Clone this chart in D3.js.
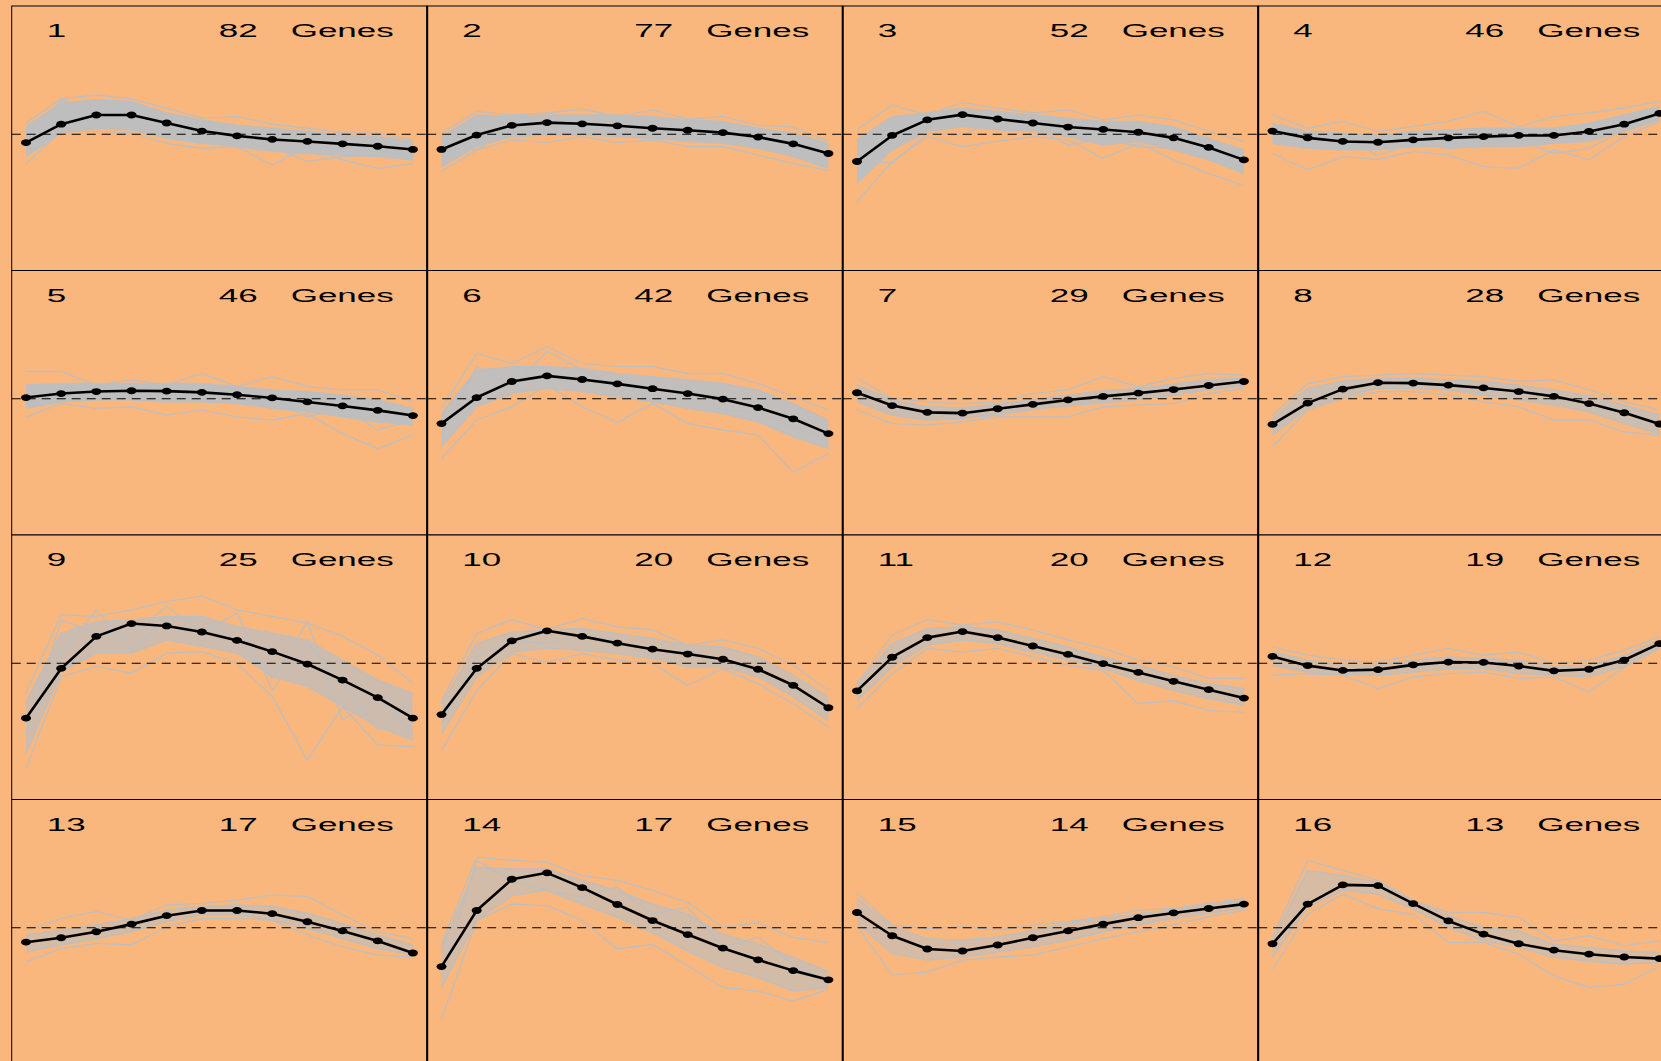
<!DOCTYPE html>
<html>
<head>
<meta charset="utf-8">
<script src="https://cdn.jsdelivr.net/npm/d3@7"></script>
<style>
  html, body { margin: 0; padding: 0; background: #F9B77E; overflow: hidden; }
  svg { display: block; }
</style>
</head>
<body>
<div id="chart"></div>
<script>
// time points on the x axis and cluster labels
const timePoints = [1, 2, 3, 4, 5, 6, 7, 8, 9, 10, 11, 12];
const clusterIds = [1, 2, 3, 4, 5, 6, 7, 8, 9, 10, 11, 12, 13, 14, 15, 16];
const geneCounts = [82, 77, 52, 46, 46, 42, 29, 28, 25, 20, 20, 19, 17, 17, 14, 13];

// cluster centre (black line)
const meanProfiles = [
  [-0.21, 0.25, 0.48, 0.48, 0.28, 0.08, -0.04, -0.13, -0.18, -0.24, -0.30, -0.38],
  [-0.38, -0.02, 0.22, 0.29, 0.26, 0.21, 0.15, 0.10, 0.04, -0.07, -0.24, -0.48],
  [-0.68, -0.03, 0.36, 0.49, 0.38, 0.28, 0.18, 0.12, 0.05, -0.09, -0.33, -0.64],
  [0.08, -0.09, -0.18, -0.20, -0.14, -0.09, -0.06, -0.03, -0.03, 0.07, 0.25, 0.52],
  [0.03, 0.13, 0.18, 0.20, 0.19, 0.16, 0.10, 0.02, -0.08, -0.18, -0.29, -0.42],
  [-0.62, 0.03, 0.43, 0.57, 0.48, 0.37, 0.25, 0.13, -0.01, -0.22, -0.50, -0.87],
  [0.15, -0.17, -0.34, -0.36, -0.25, -0.14, -0.03, 0.06, 0.14, 0.23, 0.33, 0.43],
  [-0.64, -0.11, 0.24, 0.40, 0.39, 0.34, 0.27, 0.18, 0.06, -0.12, -0.35, -0.63],
  [-1.37, -0.13, 0.67, 0.99, 0.93, 0.78, 0.57, 0.29, -0.02, -0.42, -0.86, -1.37],
  [-1.28, -0.13, 0.56, 0.81, 0.67, 0.50, 0.35, 0.23, 0.10, -0.15, -0.55, -1.11],
  [-0.69, 0.15, 0.64, 0.79, 0.64, 0.43, 0.22, -0.01, -0.23, -0.45, -0.66, -0.87],
  [0.17, -0.06, -0.18, -0.16, -0.04, 0.03, 0.02, -0.07, -0.19, -0.15, 0.08, 0.49],
  [-0.36, -0.25, -0.10, 0.09, 0.30, 0.43, 0.43, 0.35, 0.15, -0.08, -0.33, -0.63],
  [-0.97, 0.43, 1.21, 1.37, 1.00, 0.58, 0.18, -0.17, -0.51, -0.80, -1.07, -1.30],
  [0.38, -0.20, -0.53, -0.58, -0.43, -0.25, -0.08, 0.09, 0.25, 0.37, 0.48, 0.59],
  [-0.40, 0.59, 1.07, 1.05, 0.60, 0.17, -0.16, -0.40, -0.56, -0.66, -0.73, -0.77]
];

// upper and lower edge of the dense bundle of gene profiles
const bandHigh = [
  [0.19, 0.78, 0.86, 0.82, 0.53, 0.36, 0.23, 0.15, 0.07, -0.02, -0.06, -0.18],
  [-0.06, 0.48, 0.44, 0.48, 0.48, 0.48, 0.44, 0.36, 0.32, 0.15, 0.03, -0.23],
  [-0.14, 0.44, 0.53, 0.65, 0.57, 0.48, 0.40, 0.32, 0.32, 0.19, -0.10, -0.39],
  [0.28, 0.07, 0.03, -0.02, 0.07, 0.11, 0.15, 0.15, 0.15, 0.28, 0.48, 0.69],
  [0.34, 0.38, 0.38, 0.38, 0.38, 0.38, 0.30, 0.22, 0.18, 0.09, -0.03, -0.24],
  [-0.37, 0.72, 0.80, 0.80, 0.76, 0.63, 0.55, 0.47, 0.38, 0.22, -0.12, -0.53],
  [0.34, -0.03, -0.20, -0.22, -0.13, -0.02, 0.09, 0.20, 0.26, 0.37, 0.48, 0.51],
  [-0.49, 0.26, 0.43, 0.51, 0.51, 0.47, 0.43, 0.34, 0.22, 0.07, -0.16, -0.41],
  [-0.96, 0.75, 1.04, 1.08, 1.17, 1.17, 0.92, 0.75, 0.58, 0.08, -0.42, -0.75],
  [-1.01, 0.49, 0.78, 0.83, 0.87, 0.74, 0.62, 0.45, 0.41, 0.16, -0.30, -0.84],
  [-0.55, 0.49, 0.87, 0.91, 0.83, 0.62, 0.41, 0.16, -0.05, -0.30, -0.51, -0.63],
  [0.28, 0.08, -0.05, -0.05, 0.08, 0.16, 0.12, 0.08, -0.08, -0.05, 0.20, 0.58],
  [-0.18, -0.06, 0.07, 0.23, 0.44, 0.53, 0.57, 0.53, 0.36, 0.11, -0.18, -0.43],
  [-0.49, 1.51, 1.47, 1.47, 1.18, 0.93, 0.59, 0.34, -0.16, -0.41, -0.74, -1.08],
  [0.73, 0.03, -0.27, -0.31, -0.23, -0.06, 0.11, 0.23, 0.36, 0.44, 0.57, 0.68],
  [-0.33, 1.43, 1.30, 1.13, 0.68, 0.30, 0.01, -0.08, -0.41, -0.49, -0.58, -0.62]
];
const bandLow = [
  [-0.56, 0.03, 0.15, 0.11, -0.10, -0.23, -0.31, -0.43, -0.48, -0.52, -0.56, -0.64],
  [-0.81, -0.31, -0.06, -0.02, -0.02, -0.06, -0.10, -0.18, -0.23, -0.35, -0.56, -0.85],
  [-1.23, -0.39, 0.07, 0.19, 0.11, 0.07, -0.06, -0.27, -0.18, -0.39, -0.64, -0.98],
  [-0.23, -0.35, -0.39, -0.39, -0.31, -0.31, -0.31, -0.31, -0.23, -0.18, 0.07, 0.36],
  [-0.24, -0.08, -0.03, -0.03, -0.08, -0.08, -0.12, -0.24, -0.33, -0.45, -0.58, -0.66],
  [-1.20, -0.20, 0.13, 0.26, 0.18, 0.05, -0.08, -0.24, -0.37, -0.58, -0.95, -1.24],
  [-0.08, -0.41, -0.53, -0.49, -0.41, -0.27, -0.18, -0.10, -0.02, 0.09, 0.22, 0.32],
  [-0.91, -0.24, 0.05, 0.26, 0.26, 0.22, 0.09, -0.03, -0.16, -0.33, -0.62, -0.87],
  [-2.25, -0.21, 0.25, 0.25, 0.58, 0.42, 0.25, -0.33, -0.58, -1.08, -1.58, -1.92],
  [-1.76, -0.34, 0.28, 0.37, 0.33, 0.24, 0.12, -0.09, -0.09, -0.34, -0.84, -1.43],
  [-0.93, -0.09, 0.45, 0.58, 0.49, 0.28, 0.08, -0.13, -0.43, -0.68, -0.88, -1.05],
  [-0.05, -0.22, -0.28, -0.30, -0.22, -0.13, -0.13, -0.26, -0.30, -0.34, -0.08, 0.41],
  [-0.60, -0.43, -0.27, -0.10, 0.15, 0.32, 0.32, 0.19, -0.02, -0.27, -0.52, -0.68],
  [-1.49, 0.18, 0.80, 0.93, 0.59, 0.26, -0.12, -0.58, -0.99, -1.24, -1.58, -1.49],
  [0.11, -0.64, -0.81, -0.73, -0.60, -0.48, -0.31, -0.10, 0.07, 0.23, 0.36, 0.48],
  [-0.74, 0.51, 0.93, 0.84, 0.47, 0.01, -0.33, -0.49, -0.74, -0.83, -0.91, -0.87]
];

// single gene profiles that stick out of the bundle
const geneTraces = [
  [[0.28, 0.88, 0.98, 0.88, 0.65, 0.40, 0.44, 0.26, 0.15, 0.04, 0.03, -0.14],
   [-0.73, 0.07, 0.07, 0.04, -0.23, -0.35, -0.31, -0.77, -0.31, -0.64, -0.85, -0.73],
   [-0.31, 0.86, 0.61, 0.78, 0.19, 0.11, -0.10, -0.31, -0.68, -0.56, -0.52, -0.64]],
  [[0.03, 0.57, 0.48, 0.53, 0.63, 0.44, 0.61, 0.38, 0.44, 0.23, 0.18, -0.18],
   [-0.93, -0.39, -0.14, -0.21, -0.06, -0.21, -0.14, -0.31, -0.31, -0.52, -0.73, -0.91],
   [-0.31, -0.39, 0.15, 0.32, 0.07, 0.19, 0.03, -0.14, -0.02, -0.23, -0.48, -0.64]],
  [[0.11, 0.73, 0.48, 0.79, 0.65, 0.53, 0.61, 0.36, 0.48, 0.36, 0.07, -0.18],
   [-1.68, -0.68, -0.06, -0.31, -0.18, -0.06, -0.14, -0.60, -0.23, -0.64, -0.98, -1.29],
   [-0.64, -0.73, 0.03, -0.02, 0.40, 0.19, -0.27, -0.10, -0.31, -0.35, -0.48, -0.89]],
  [[0.48, 0.15, 0.32, 0.07, 0.19, 0.32, 0.57, 0.19, 0.44, 0.53, 0.65, 0.82],
   [-0.48, -0.89, -0.56, -0.63, -0.43, -0.52, -0.81, -0.85, -0.39, -0.64, -0.06, 0.32],
   [-0.14, -0.31, -0.14, -0.52, -0.23, -0.35, -0.31, -0.14, -0.48, -0.35, 0.11, 0.44]],
  [[0.68, 0.68, 0.34, 0.47, 0.34, 0.63, 0.30, 0.55, 0.30, 0.22, 0.22, -0.08],
   [-0.45, -0.12, -0.24, -0.20, -0.41, -0.28, -0.45, -0.53, -0.37, -0.87, -1.24, -0.91],
   [-0.03, 0.05, 0.30, 0.01, 0.01, 0.13, -0.12, -0.03, -0.45, -0.20, -0.78, -0.53]],
  [[-0.24, 1.13, 0.88, 1.30, 0.88, 0.80, 0.80, 0.63, 0.63, 0.38, 0.05, -0.28],
   [-1.49, -0.53, -0.20, 0.34, -0.20, -0.58, -0.12, -0.62, -0.78, -0.91, -1.83, -1.37],
   [-0.87, 0.80, 0.30, 1.18, 0.72, 0.30, 0.18, 0.30, -0.28, -0.33, -0.70, -1.03]],
  [[0.51, 0.01, -0.08, -0.12, -0.08, 0.13, 0.22, 0.55, 0.30, 0.51, 0.63, 0.59],
   [-0.28, -0.62, -0.66, -0.58, -0.45, -0.45, -0.45, -0.20, -0.16, -0.12, 0.13, 0.26]],
  [[-0.41, 0.38, 0.55, 0.59, 0.63, 0.59, 0.55, 0.43, 0.47, 0.22, -0.08, -0.28],
   [-1.20, -0.28, 0.01, 0.18, 0.18, 0.09, -0.08, -0.20, -0.53, -0.53, -0.83, -0.91]],
  [[-0.75, 1.21, 1.17, 1.33, 1.54, 1.68, 1.33, 1.17, 1.00, 0.67, 0.21, -0.50],
   [-2.63, -0.33, -0.08, -0.25, 0.25, 0.29, 0.00, -0.83, -2.42, -1.08, -2.04, -2.08],
   [-1.42, 0.25, 1.33, 0.33, 1.08, 1.08, 0.58, -0.38, 1.04, -1.42, -0.83, -1.75],
   [-1.83, 1.08, 0.75, 0.67, 1.42, 0.75, 1.25, -0.67, 0.50, -0.42, -1.67, -1.08]],
  [[-0.93, 0.74, 1.09, 0.83, 1.12, 0.91, 0.83, 0.45, 0.58, 0.37, -0.05, -0.68],
   [-2.18, -0.68, 0.24, 0.03, 0.24, 0.08, -0.01, -0.55, -0.13, -0.51, -1.01, -1.59],
   [-1.51, 0.16, 0.58, 0.49, 0.74, 0.58, 0.16, 0.33, 0.08, -0.26, -0.68, -1.26]],
  [[-0.51, 0.70, 1.09, 0.95, 1.03, 0.83, 0.58, 0.37, 0.08, -0.09, -0.38, -0.38],
   [-1.13, -0.26, 0.37, 0.28, 0.37, 0.16, -0.05, -0.18, -1.01, -0.93, -1.18, -1.22]],
  [[0.41, 0.20, 0.08, 0.03, 0.20, 0.37, 0.20, 0.28, -0.01, 0.08, 0.33, 0.66],
   [-0.30, -0.26, -0.30, -0.63, -0.34, -0.26, -0.22, -0.38, -0.34, -0.72, -0.09, 0.37]],
  [[-0.06, 0.23, 0.40, 0.19, 0.57, 0.61, 0.69, 0.82, 0.78, 0.32, -0.10, -0.27],
   [-0.85, -0.52, -0.39, -0.43, 0.03, 0.23, 0.23, 0.19, -0.18, -0.48, -0.68, -0.73]],
  [[-0.41, 1.76, 1.68, 1.63, 1.30, 1.18, 0.93, 0.63, 0.01, 0.13, -0.24, -0.37],
   [-2.28, 0.18, 0.59, 0.55, 0.18, -0.53, -0.41, -0.95, -1.49, -1.58, -1.83, -1.53],
   [-1.16, 1.68, 1.18, 0.93, 0.76, 1.01, 0.34, 0.51, -0.49, -0.24, -0.91, -1.33]],
  [[0.86, 0.07, -0.02, 0.03, -0.06, 0.07, 0.15, 0.28, 0.44, 0.48, 0.61, 0.73],
   [0.03, -1.18, -1.10, -0.81, -0.73, -0.68, -0.48, -0.27, -0.10, 0.07, 0.28, 0.44]],
  [[-0.24, 1.68, 1.43, 1.18, 0.68, 0.38, 0.38, 0.26, -0.33, -0.20, -0.45, -0.33],
   [-1.03, 0.34, 0.84, 0.47, 0.34, -0.37, -0.37, -0.66, -1.20, -1.49, -1.41, -0.95]]
];

const bgColor = "#F9B77E";
const greyColor = "#BEBEBE";

const width = 1661;
const height = 1061;
const panelW = 415.5;
const panelH = 264.5;
const originX = 11.7;
const originY = 6;

const svg = d3.select("#chart")
    .append("svg")
    .attr("width", width)
    .attr("height", height);

svg.append("rect")
    .attr("width", width)
    .attr("height", height)
    .attr("fill", bgColor);

// same scales in every panel
const x = d3.scaleLinear().domain([1, 12]).range([14.3, panelW - 14.3]);
const y = d3.scaleLinear().domain([-3.4, 3.2]).range([panelH, 0]);

const line = d3.line()
    .x((d, j) => x(timePoints[j]))
    .y(d => y(d));

const band = d3.area()
    .x((d, j) => x(timePoints[j]))
    .y0(d => y(d[0]))
    .y1(d => y(d[1]));

clusterIds.forEach(function (id, i) {
    const col = i % 4;
    const row = Math.floor(i / 4);
    const g = svg.append("g")
        .attr("transform", "translate(" + (originX + col * panelW) + "," + (originY + row * panelH) + ")");

    // panel box
    g.append("rect")
        .attr("width", panelW)
        .attr("height", panelH)
        .attr("fill", bgColor)
        .attr("stroke", "#000")
        .attr("stroke-width", 1);

    // grey bundle of gene profiles: solid when many genes, thinner when few
    const bandData = bandLow[i].map((lo, j) => [lo, bandHigh[i][j]]);
    g.append("path")
        .datum(bandData)
        .attr("d", band)
        .attr("fill", greyColor)
        .attr("fill-opacity", Math.min(1, 0.45 + 0.55 * geneCounts[i] / 46));

    g.selectAll(".edge")
        .data([bandHigh[i], bandLow[i]])
        .enter().append("path")
        .attr("d", line)
        .attr("fill", "none")
        .attr("stroke", greyColor)
        .attr("stroke-width", 1.3);

    g.selectAll(".gene")
        .data(geneTraces[i])
        .enter().append("path")
        .attr("class", "gene")
        .attr("d", line)
        .attr("fill", "none")
        .attr("stroke", greyColor)
        .attr("stroke-width", 1.3);

    // zero line
    g.append("line")
        .attr("x1", 0)
        .attr("x2", panelW)
        .attr("y1", y(0))
        .attr("y2", y(0))
        .attr("stroke", "#000")
        .attr("stroke-width", 1.2)
        .attr("stroke-dasharray", "9,6");

    // cluster centre
    g.append("path")
        .datum(meanProfiles[i])
        .attr("d", line)
        .attr("fill", "none")
        .attr("stroke", "#000")
        .attr("stroke-width", 2.6)
        .attr("stroke-linejoin", "round");

    g.selectAll(".dot")
        .data(meanProfiles[i])
        .enter().append("ellipse")
        .attr("class", "dot")
        .attr("cx", (d, j) => x(timePoints[j]))
        .attr("cy", d => y(d))
        .attr("rx", 5)
        .attr("ry", 3.4)
        .attr("fill", "#000");

    // header: cluster id, gene count, "Genes" (text is stretched wide)
    const labels = [
        { x: 35, anchor: "start", text: id },
        { x: 246, anchor: "end", text: geneCounts[i] },
        { x: 279, anchor: "start", text: "Genes" }
    ];
    labels.forEach(function (l) {
        g.append("text")
            .attr("transform", "translate(" + l.x + ",31.3) scale(2,1)")
            .attr("text-anchor", l.anchor)
            .style("font-family", "'Liberation Sans', Arial, sans-serif")
            .style("font-size", "17.5px")
            .attr("fill", "#000")
            .text(l.text);
    });
});

// the column separators are drawn heavier than the rows
[1, 2, 3].forEach(function (c) {
    svg.append("line")
        .attr("x1", originX + c * panelW)
        .attr("x2", originX + c * panelW)
        .attr("y1", originY)
        .attr("y2", height)
        .attr("stroke", "#000")
        .attr("stroke-width", 2);
});
</script>
</body>
</html>
